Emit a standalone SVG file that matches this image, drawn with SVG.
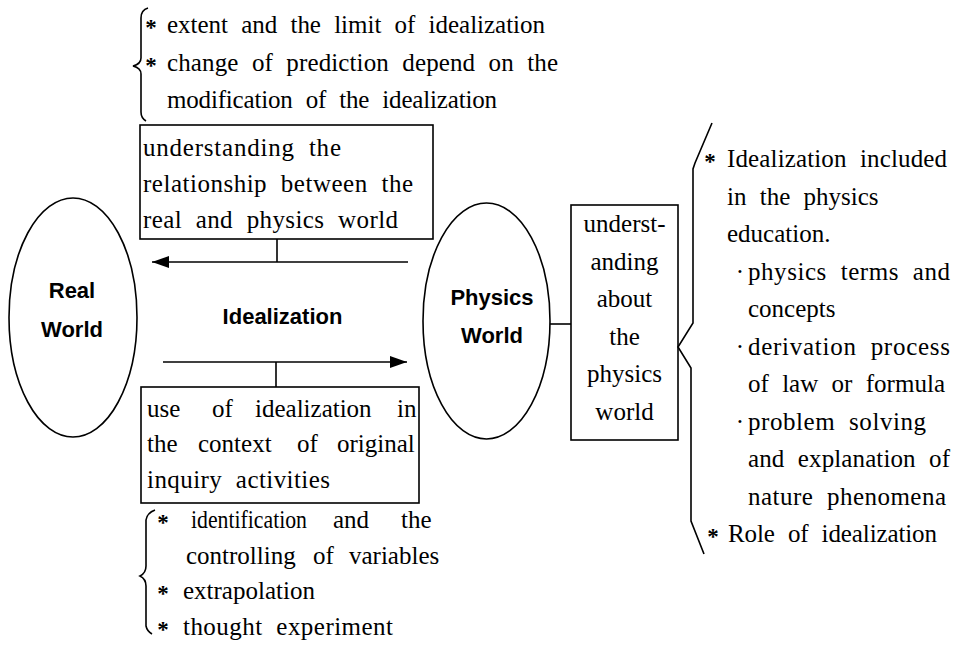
<svg xmlns="http://www.w3.org/2000/svg" width="958" height="646" viewBox="0 0 958 646">
  <style>
    .bg { fill: #ffffff; }
    .line { fill: none; stroke: #000; stroke-width: 1.6; }
    .shape { fill: #ffffff; stroke: #000; stroke-width: 1.6; }
    .serif { font-family: "Liberation Serif", "Times New Roman", serif; font-size: 25px; fill: #000; word-spacing: 7px; }
    .star { font-family: "Liberation Serif", "Times New Roman", serif; font-size: 23px; font-weight: bold; fill: #000; text-anchor: middle; }
    .dot { font-family: "Liberation Serif", "Times New Roman", serif; font-size: 25px; fill: #000; text-anchor: middle; }
    .mid { text-anchor: middle; }
    .sans { font-family: "Liberation Sans", Arial, sans-serif; font-size: 22px; font-weight: bold; fill: #000; text-anchor: middle; }
  </style>
  <defs>
    <marker id="arrowhead" markerUnits="userSpaceOnUse" markerWidth="17" markerHeight="12" refX="17" refY="6" orient="auto">
      <path d="M0,0 L17,6 L0,12 z" fill="#000"/>
    </marker>
  </defs>

  <rect class="bg" x="0" y="0" width="958" height="646"/>

  <!-- connectors -->
  <g id="connectors">
    <line class="line" x1="408" y1="262" x2="152" y2="262" marker-end="url(#arrowhead)"/>
    <line class="line" x1="277" y1="239" x2="277" y2="262"/>
    <line class="line" x1="163" y1="362" x2="407" y2="362" marker-end="url(#arrowhead)"/>
    <line class="line" x1="276" y1="362" x2="276" y2="387"/>
    <line class="line" x1="550" y1="324" x2="571" y2="324"/>
  </g>

  <!-- Real World -->
  <g id="real-world">
    <ellipse class="shape" cx="73" cy="317.5" rx="64" ry="119.5"/>
    <text class="sans" x="72" y="298">Real</text>
    <text class="sans" x="72" y="337">World</text>
  </g>

  <!-- Physics World -->
  <g id="physics-world">
    <ellipse class="shape" cx="486.5" cy="321" rx="63.5" ry="118"/>
    <text class="sans" x="492" y="305">Physics</text>
    <text class="sans" x="492" y="343">World</text>
  </g>

  <!-- label between the two worlds -->
  <g id="idealization">
    <text class="sans" x="282.5" y="324">Idealization</text>
  </g>

  <!-- upper box -->
  <g id="relationship-box">
    <rect class="shape" x="140" y="125" width="293" height="114"/>
    <text class="serif" x="143" y="156" textLength="198" lengthAdjust="spacing">understanding the</text>
    <text class="serif" x="143" y="192" textLength="270" lengthAdjust="spacing">relationship between the</text>
    <text class="serif" x="143" y="228" textLength="255" lengthAdjust="spacing">real and physics world</text>
  </g>

  <!-- notes above the upper box -->
  <g id="idealization-limits">
    <path class="line" d="M148,8 Q141,10 141,18 L141,58 Q141,64 133,66 Q141,68 141,74 L141,112 Q141,118 146,121"/>
    <text class="star" x="151" y="35">*</text>
    <text class="serif" x="167" y="33" textLength="378" lengthAdjust="spacing">extent and the limit of idealization</text>
    <text class="star" x="151" y="73">*</text>
    <text class="serif" x="167" y="71" textLength="391" lengthAdjust="spacing">change of prediction depend on the</text>
    <text class="serif" x="167" y="108" textLength="330" lengthAdjust="spacing">modification of the idealization</text>
  </g>

  <!-- lower box -->
  <g id="inquiry-box">
    <rect class="shape" x="141" y="387" width="278" height="116"/>
    <text class="serif" y="417"><tspan x="147">use</tspan><tspan x="212">of</tspan><tspan x="255">idealization</tspan><tspan x="397">in</tspan></text>
    <text class="serif" y="452"><tspan x="147">the</tspan><tspan x="198">context</tspan><tspan x="297">of</tspan><tspan x="337">original</tspan></text>
    <text class="serif" x="147" y="488" textLength="183" lengthAdjust="spacing">inquiry activities</text>
  </g>

  <!-- notes below the lower box -->
  <g id="inquiry-notes">
    <path class="line" d="M155,510 Q147,513 146,520 L146,566 Q146,573 140,576 Q146,579 146,586 L146,626 Q147,631 152,634"/>
    <text class="star" x="163" y="530">*</text>
    <text class="serif" y="528"><tspan x="191" textLength="116" lengthAdjust="spacingAndGlyphs">identification</tspan><tspan x="333">and</tspan><tspan x="401">the</tspan></text>
    <text class="serif" y="564"><tspan x="186">controlling</tspan><tspan x="313">of</tspan><tspan x="349">variables</tspan></text>
    <text class="star" x="163" y="601">*</text>
    <text class="serif" x="183" y="599">extrapolation</text>
    <text class="star" x="163" y="637">*</text>
    <text class="serif" x="183" y="635" textLength="210" lengthAdjust="spacing">thought experiment</text>
  </g>

  <!-- box beside the physics world -->
  <g id="understanding-box">
    <rect class="shape" x="571" y="205" width="107" height="235"/>
    <text class="serif mid" x="624.5" y="232">underst-</text>
    <text class="serif mid" x="624.5" y="269.5">anding</text>
    <text class="serif mid" x="624.5" y="307">about</text>
    <text class="serif mid" x="624.5" y="344.5">the</text>
    <text class="serif mid" x="624.5" y="382">physics</text>
    <text class="serif mid" x="624.5" y="419.5">world</text>
  </g>

  <!-- notes on the right -->
  <g id="education-notes">
    <path class="line" d="M712,123 L695,163 L693,169 L693,323 L678,347 L691,368 L691,521 L704,554"/>
    <text class="star" x="710" y="169">*</text>
    <text class="serif" x="727" y="167" textLength="220" lengthAdjust="spacing">Idealization included</text>
    <text class="serif" x="727" y="204.5">in the physics</text>
    <text class="serif" x="727" y="242">education.</text>
    <text class="dot" x="740" y="279.5">·</text>
    <text class="serif" x="748" y="279.5" textLength="202" lengthAdjust="spacing">physics terms and</text>
    <text class="serif" x="748" y="317">concepts</text>
    <text class="dot" x="740" y="354.5">·</text>
    <text class="serif" x="748" y="354.5" textLength="202" lengthAdjust="spacing">derivation process</text>
    <text class="serif" x="748" y="392" textLength="197" lengthAdjust="spacing">of law or formula</text>
    <text class="dot" x="740" y="429.5">·</text>
    <text class="serif" x="748" y="429.5" textLength="178" lengthAdjust="spacing">problem solving</text>
    <text class="serif" x="748" y="467" textLength="202" lengthAdjust="spacing">and explanation of</text>
    <text class="serif" x="748" y="504.5" textLength="198" lengthAdjust="spacing">nature phenomena</text>
    <text class="star" x="713" y="544">*</text>
    <text class="serif" x="728" y="542" textLength="209" lengthAdjust="spacing">Role of idealization</text>
  </g>
</svg>
